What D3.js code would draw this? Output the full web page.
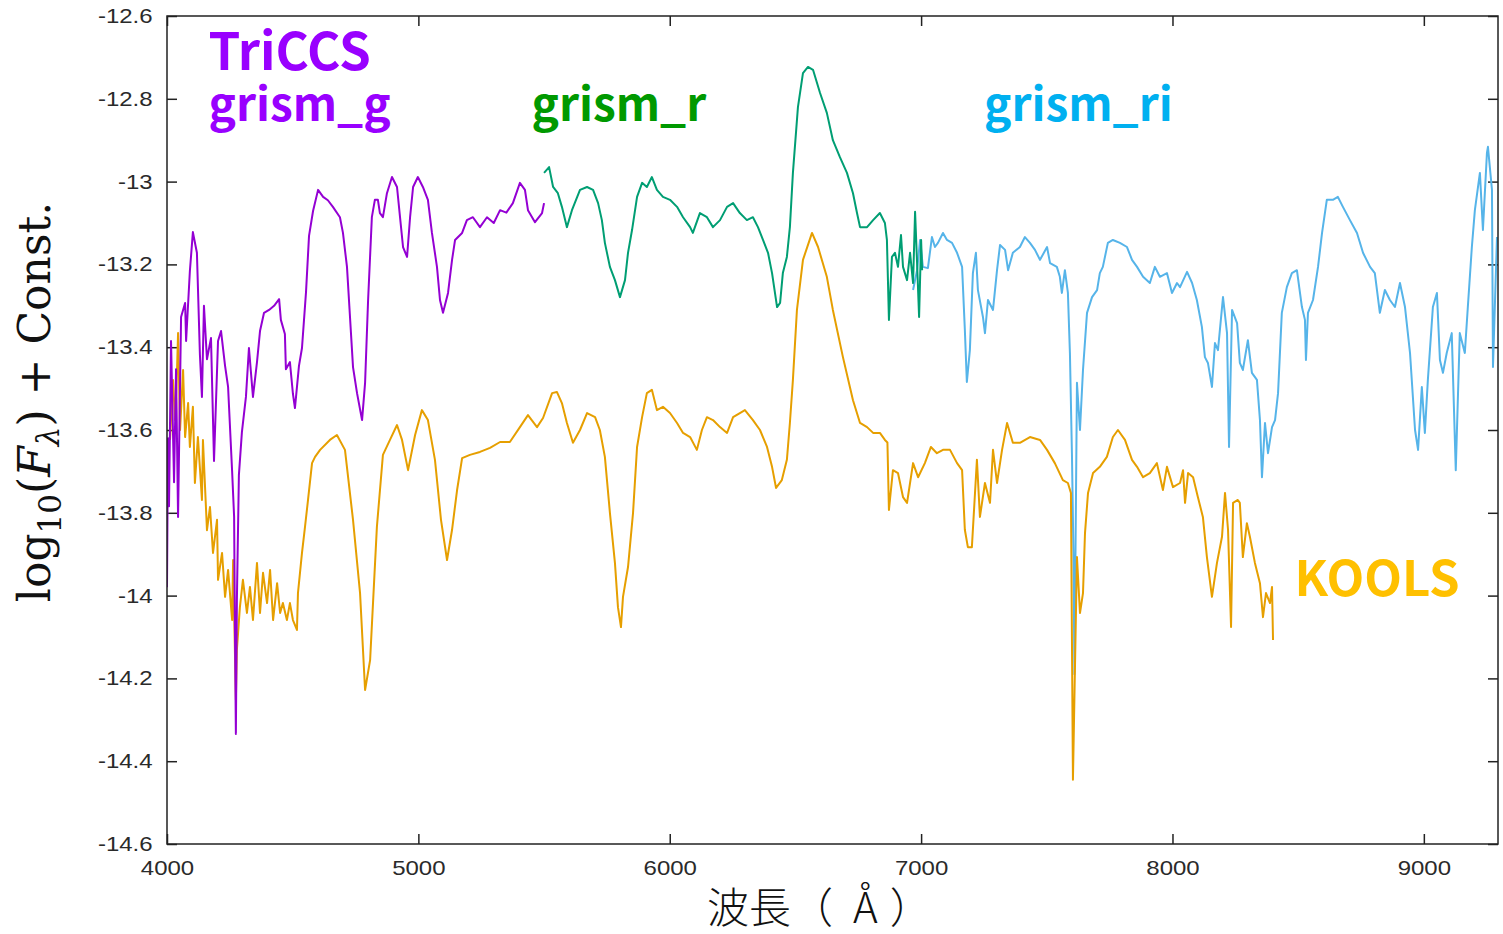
<!DOCTYPE html>
<html>
<head>
<meta charset="utf-8">
<script src="https://cdn.jsdelivr.net/npm/d3@7"></script>
<style>
  html, body { margin: 0; padding: 0; background: #fff; }
  svg { display: block; }
</style>
</head>
<body>
<div id="chart"></div>
<script>
// Axis ticks
const X_TICKS = [4000, 5000, 6000, 7000, 8000, 9000];
const Y_TICKS = [-12.6, -12.8, -13.0, -13.2, -13.4, -13.6, -13.8, -14.0, -14.2, -14.4, -14.6];

// Spectra: [wavelength (A), log10 flux + const]
const GRISM_G = [
  [4000, -13.98], [4004, -13.62], [4008, -13.784], [4016, -13.385], [4028, -13.726], [4036, -13.453],
  [4044, -13.81], [4056, -13.327], [4072, -13.293], [4076, -13.385], [4091, -13.216], [4103, -13.122],
  [4119, -13.172], [4131, -13.419], [4139, -13.52], [4147, -13.3], [4159, -13.429], [4175, -13.378],
  [4187, -13.675], [4203, -13.385], [4215, -13.361], [4231, -13.445], [4243, -13.496], [4259, -13.699],
  [4267, -13.81], [4270, -14.064], [4274, -14.334], [4278, -14.011], [4286, -13.709], [4298, -13.605],
  [4314, -13.52], [4326, -13.402], [4342, -13.52], [4358, -13.436], [4370, -13.361], [4386, -13.317],
  [4406, -13.31], [4426, -13.3], [4446, -13.284], [4453, -13.334], [4469, -13.368], [4473, -13.453],
  [4489, -13.436], [4501, -13.513], [4509, -13.547], [4525, -13.445], [4537, -13.402], [4553, -13.267],
  [4565, -13.131], [4581, -13.071], [4601, -13.02], [4621, -13.037], [4640, -13.045], [4660, -13.061],
  [4688, -13.086], [4700, -13.124], [4716, -13.206], [4728, -13.327], [4740, -13.448], [4756, -13.511],
  [4776, -13.576], [4788, -13.486], [4800, -13.286], [4815, -13.086], [4827, -13.044], [4839, -13.044],
  [4847, -13.076], [4859, -13.086], [4875, -13.028], [4895, -12.989], [4915, -13.013], [4927, -13.086],
  [4939, -13.158], [4955, -13.182], [4967, -13.086], [4979, -13.013], [4998, -12.989], [5018, -13.013],
  [5038, -13.044], [5054, -13.124], [5074, -13.206], [5086, -13.286], [5098, -13.317], [5118, -13.269],
  [5134, -13.189], [5146, -13.141], [5174, -13.124], [5193, -13.093], [5217, -13.086], [5245, -13.11],
  [5273, -13.086], [5300, -13.1], [5325, -13.069], [5350, -13.075], [5376, -13.052], [5404, -13.003],
  [5424, -13.02], [5436, -13.069], [5464, -13.098], [5492, -13.076], [5500, -13.052]
];

const GRISM_R = [
  [5500, -12.979], [5520, -12.965], [5536, -13.013], [5555, -13.028], [5571, -13.061], [5591, -13.11],
  [5611, -13.069], [5643, -13.02], [5671, -13.013], [5695, -13.02], [5715, -13.052], [5730, -13.093],
  [5742, -13.148], [5762, -13.206], [5782, -13.238], [5802, -13.279], [5822, -13.238], [5834, -13.172],
  [5850, -13.117], [5870, -13.037], [5890, -13.003], [5909, -13.013], [5929, -12.989], [5949, -13.02],
  [5973, -13.037], [6001, -13.044], [6029, -13.061], [6053, -13.086], [6081, -13.11], [6092, -13.124],
  [6120, -13.076], [6148, -13.086], [6172, -13.11], [6200, -13.093], [6228, -13.061], [6252, -13.052],
  [6279, -13.076], [6307, -13.093], [6331, -13.086], [6351, -13.11], [6371, -13.141], [6391, -13.172],
  [6407, -13.221], [6427, -13.303], [6439, -13.293], [6450, -13.221], [6466, -13.182], [6478, -13.11],
  [6490, -12.979], [6510, -12.82], [6530, -12.738], [6550, -12.723], [6570, -12.73], [6598, -12.786],
  [6625, -12.834], [6649, -12.9], [6677, -12.941], [6705, -12.979], [6729, -13.028], [6745, -13.076],
  [6757, -13.11], [6785, -13.11], [6809, -13.093], [6836, -13.076], [6856, -13.1], [6864, -13.141],
  [6872, -13.334], [6884, -13.182], [6896, -13.172], [6908, -13.206], [6920, -13.129], [6928, -13.206],
  [6944, -13.238], [6956, -13.172], [6968, -13.245], [6976, -13.073], [6984, -13.197], [6992, -13.327],
  [7000, -13.141], [7004, -13.214]
];

const GRISM_RI = [
  [6968, -13.262], [6984, -13.214], [6996, -13.141], [7007, -13.206], [7027, -13.209], [7043, -13.134],
  [7055, -13.158], [7067, -13.148], [7087, -13.124], [7103, -13.141], [7123, -13.148], [7143, -13.172],
  [7163, -13.206], [7174, -13.358], [7182, -13.484], [7194, -13.407], [7206, -13.221], [7218, -13.172],
  [7226, -13.262], [7246, -13.327], [7254, -13.366], [7266, -13.286], [7286, -13.31], [7302, -13.214],
  [7314, -13.153], [7334, -13.165], [7346, -13.214], [7365, -13.172], [7393, -13.158], [7413, -13.134],
  [7433, -13.148], [7453, -13.165], [7473, -13.189], [7501, -13.158], [7513, -13.197], [7540, -13.206],
  [7552, -13.23], [7560, -13.269], [7572, -13.214], [7584, -13.269], [7592, -13.414], [7600, -13.656],
  [7606, -13.897], [7610, -14.19], [7620, -13.486], [7632, -13.6], [7644, -13.455], [7660, -13.317],
  [7680, -13.279], [7700, -13.262], [7711, -13.221], [7723, -13.206], [7743, -13.148], [7763, -13.141],
  [7791, -13.148], [7819, -13.158], [7839, -13.189], [7859, -13.206], [7883, -13.23], [7910, -13.245],
  [7930, -13.206], [7950, -13.23], [7978, -13.221], [7998, -13.269], [8018, -13.245], [8030, -13.255],
  [8058, -13.218], [8078, -13.245], [8097, -13.286], [8117, -13.351], [8129, -13.424], [8141, -13.438],
  [8157, -13.496], [8169, -13.39], [8181, -13.407], [8201, -13.279], [8217, -13.366], [8225, -13.641],
  [8237, -13.31], [8257, -13.342], [8268, -13.438], [8280, -13.455], [8300, -13.383], [8316, -13.462],
  [8336, -13.479], [8348, -13.576], [8356, -13.714], [8368, -13.583], [8380, -13.656], [8396, -13.593],
  [8408, -13.576], [8420, -13.511], [8435, -13.317], [8455, -13.255], [8475, -13.221], [8495, -13.214],
  [8515, -13.303], [8527, -13.334], [8531, -13.431], [8539, -13.317], [8559, -13.286], [8579, -13.206],
  [8595, -13.124], [8614, -13.044], [8638, -13.044], [8658, -13.037], [8678, -13.061], [8706, -13.093],
  [8734, -13.124], [8758, -13.172], [8786, -13.206], [8805, -13.221], [8825, -13.317], [8845, -13.262],
  [8865, -13.286], [8885, -13.303], [8905, -13.245], [8925, -13.303], [8945, -13.414], [8965, -13.6],
  [8977, -13.648], [8992, -13.496], [9004, -13.607], [9016, -13.479], [9036, -13.303], [9052, -13.269],
  [9064, -13.431], [9076, -13.462], [9091, -13.414], [9111, -13.366], [9127, -13.697], [9143, -13.366],
  [9163, -13.414], [9175, -13.303], [9191, -13.158], [9203, -13.069], [9223, -12.979], [9235, -13.117],
  [9251, -12.931], [9255, -12.916], [9271, -13.02], [9275, -13.448], [9291, -13.134]
];

const KOOLS = [
  [4012, -13.624], [4024, -13.479], [4032, -13.576], [4040, -13.455], [4044, -13.366], [4052, -13.6],
  [4064, -13.455], [4072, -13.617], [4084, -13.535], [4091, -13.641], [4103, -13.544], [4111, -13.728],
  [4123, -13.617], [4139, -13.769], [4143, -13.624], [4159, -13.842], [4171, -13.786], [4183, -13.897],
  [4199, -13.817], [4203, -13.962], [4219, -13.897], [4231, -14.003], [4243, -13.938], [4259, -14.059],
  [4263, -13.914], [4274, -14.252], [4278, -14.131], [4290, -14.028], [4302, -13.962], [4318, -14.042],
  [4330, -13.979], [4342, -14.059], [4358, -13.921], [4370, -14.042], [4382, -13.945], [4398, -14.018],
  [4410, -13.938], [4422, -14.059], [4438, -13.97], [4450, -14.042], [4461, -14.018], [4477, -14.059],
  [4489, -14.018], [4501, -14.059], [4517, -14.083], [4521, -13.994], [4537, -13.897], [4549, -13.834],
  [4561, -13.769], [4577, -13.68], [4589, -13.665], [4609, -13.648], [4648, -13.624], [4676, -13.612],
  [4708, -13.648], [4740, -13.817], [4768, -13.994], [4788, -14.228], [4808, -14.156], [4835, -13.834],
  [4859, -13.66], [4887, -13.624], [4915, -13.588], [4935, -13.624], [4959, -13.697], [4987, -13.612],
  [5014, -13.552], [5038, -13.576], [5066, -13.672], [5090, -13.817], [5114, -13.914], [5134, -13.841],
  [5154, -13.745], [5174, -13.668], [5205, -13.66], [5245, -13.653], [5285, -13.643], [5325, -13.629],
  [5364, -13.629], [5404, -13.593], [5436, -13.564], [5472, -13.593], [5496, -13.571], [5532, -13.511],
  [5551, -13.508], [5571, -13.535], [5591, -13.583], [5615, -13.631], [5643, -13.6], [5671, -13.559],
  [5703, -13.569], [5722, -13.6], [5742, -13.665], [5762, -13.8], [5782, -13.921], [5794, -14.028],
  [5806, -14.076], [5814, -14.003], [5834, -13.931], [5854, -13.8], [5870, -13.641], [5890, -13.569],
  [5909, -13.511], [5929, -13.503], [5949, -13.552], [5973, -13.544], [6001, -13.559], [6029, -13.583],
  [6053, -13.607], [6081, -13.617], [6108, -13.648], [6128, -13.6], [6148, -13.569], [6172, -13.576],
  [6200, -13.593], [6228, -13.607], [6252, -13.569], [6279, -13.559], [6299, -13.552], [6331, -13.576],
  [6359, -13.6], [6387, -13.641], [6407, -13.689], [6423, -13.74], [6446, -13.721], [6466, -13.672],
  [6478, -13.583], [6490, -13.479], [6506, -13.31], [6530, -13.189], [6566, -13.124], [6590, -13.158],
  [6625, -13.23], [6649, -13.31], [6689, -13.424], [6729, -13.528], [6757, -13.583], [6785, -13.593],
  [6809, -13.607], [6836, -13.607], [6856, -13.624], [6866, -13.63], [6872, -13.793], [6888, -13.697],
  [6908, -13.704], [6928, -13.762], [6944, -13.776], [6968, -13.68], [6988, -13.714], [7015, -13.68],
  [7039, -13.641], [7063, -13.656], [7087, -13.648], [7115, -13.648], [7143, -13.68], [7163, -13.697],
  [7174, -13.841], [7186, -13.883], [7202, -13.883], [7222, -13.672], [7234, -13.81], [7254, -13.728],
  [7274, -13.776], [7286, -13.648], [7302, -13.728], [7322, -13.648], [7342, -13.583], [7365, -13.631],
  [7393, -13.631], [7433, -13.617], [7473, -13.624], [7501, -13.648], [7532, -13.68], [7564, -13.721],
  [7584, -13.728], [7596, -13.752], [7604, -14.445], [7620, -13.907], [7632, -14.042], [7644, -13.994],
  [7652, -13.849], [7664, -13.752], [7684, -13.704], [7711, -13.689], [7739, -13.665], [7763, -13.617],
  [7783, -13.6], [7811, -13.624], [7839, -13.672], [7859, -13.689], [7883, -13.714], [7910, -13.704],
  [7938, -13.68], [7962, -13.745], [7978, -13.689], [8002, -13.738], [8030, -13.728], [8042, -13.697],
  [8050, -13.776], [8062, -13.704], [8082, -13.714], [8101, -13.762], [8121, -13.81], [8137, -13.907],
  [8157, -14.003], [8177, -13.921], [8197, -13.858], [8209, -13.752], [8221, -13.841], [8233, -14.076],
  [8241, -13.776], [8260, -13.769], [8268, -13.776], [8280, -13.907], [8296, -13.825], [8308, -13.858],
  [8328, -13.921], [8348, -13.97], [8360, -14.052], [8372, -13.994], [8388, -14.018], [8396, -13.979],
  [8400, -14.107]
];

// Draw order and colours (gnuplot-like defaults)
const SERIES = [
  { name: 'grism_ri', data: GRISM_RI, color: '#56b4e9' },
  { name: 'KOOLS', data: KOOLS, color: '#e69f00' },
  { name: 'grism_r', data: GRISM_R, color: '#009e73' },
  { name: 'grism_g', data: GRISM_G, color: '#9400d3' }
];

const LABELS = [
  { text: 'TriCCS', x: 4165, y: -12.730, color: '#9900ff', size: 51 },
  { text: 'grism_g', x: 4165, y: -12.854, color: '#9900ff', size: 46 },
  { text: 'grism_r', x: 5450, y: -12.854, color: '#009900', size: 46 },
  { text: 'grism_ri', x: 7250, y: -12.854, color: '#00b0f0', size: 46 },
  { text: 'KOOLS', x: 8485, y: -14.0, color: '#ffc000', size: 49 }
];

const W = 1503;
const H = 934;
const margin = { top: 16, right: 5, bottom: 90, left: 167 };
const plotW = W - margin.left - margin.right;
const plotH = H - margin.top - margin.bottom;

const x = d3.scaleLinear().domain([4000, 9295]).range([0, plotW]);
const y = d3.scaleLinear().domain([-14.6, -12.6]).range([plotH, 0]);

const svg = d3.select('#chart').append('svg')
  .attr('width', W)
  .attr('height', H);

const g = svg.append('g')
  .attr('transform', `translate(${margin.left},${margin.top})`);

g.append('clipPath').attr('id', 'plot-clip')
  .append('rect')
  .attr('width', plotW)
  .attr('height', plotH);

const fmtY = d => String(+d.toFixed(1));
const tickFont = '"Liberation Sans", Arial, sans-serif';

// Axes, ticks pointing inward on every side
const xAxis = g.append('g')
  .attr('transform', `translate(0,${plotH})`)
  .call(d3.axisBottom(x).tickValues(X_TICKS).tickSize(-10).tickPadding(17).tickFormat(d3.format('d')));

const yAxis = g.append('g')
  .call(d3.axisLeft(y).tickValues(Y_TICKS).tickSize(-10).tickPadding(12).tickFormat(fmtY));

g.append('g')
  .call(d3.axisTop(x).tickValues(X_TICKS).tickSize(-10).tickFormat(''));

g.append('g')
  .attr('transform', `translate(${plotW},0)`)
  .call(d3.axisRight(y).tickValues(Y_TICKS).tickSize(-10).tickFormat(''));

g.selectAll('.domain').remove();
g.selectAll('.tick line').attr('stroke', '#222').attr('stroke-width', 1.5);

[xAxis, yAxis].forEach((ax) => {
  ax.selectAll('text')
    .attr('fill', '#2a2a2a')
    .style('font-family', tickFont)
    .style('font-size', '20px')
    .attr('transform', 'scale(1.2,1)');
});

// Spectra
const line = d3.line()
  .x(d => x(d[0]))
  .y(d => y(d[1]));

g.append('g')
  .attr('clip-path', 'url(#plot-clip)')
  .selectAll('path.spec')
  .data(SERIES)
  .enter().append('path')
  .attr('class', 'spec')
  .attr('fill', 'none')
  .attr('stroke', d => d.color)
  .attr('stroke-width', 2)
  .attr('stroke-linejoin', 'round')
  .attr('d', d => line(d.data));

// Frame
g.append('rect')
  .attr('width', plotW)
  .attr('height', plotH)
  .attr('fill', 'none')
  .attr('stroke', '#222')
  .attr('stroke-width', 1.5);

// Instrument labels
g.selectAll('text.label')
  .data(LABELS)
  .enter().append('text')
  .attr('class', 'label')
  .attr('x', d => x(d.x))
  .attr('y', d => y(d.y))
  .attr('fill', d => d.color)
  .style('font-family', '"Noto Sans CJK JP", "Noto Sans", sans-serif')
  .style('font-weight', 700)
  .style('font-size', d => `${d.size}px`)
  .text(d => d.text);

// Axis titles
const xTitle = svg.append('text')
  .attr('x', 707)
  .attr('y', 923)
  .attr('fill', '#111')
  .style('font-family', '"Noto Sans CJK JP", sans-serif')
  .style('font-weight', 300)
  .style('font-size', '42px');

xTitle.append('tspan').text('波長（');
xTitle.append('tspan').attr('dx', 20).text('Å');
xTitle.append('tspan').attr('dx', 12).text('）');

const yTitle = svg.append('text')
  .attr('transform', 'translate(50,402) rotate(-90)')
  .attr('text-anchor', 'middle')
  .attr('fill', '#111')
  .style('font-family', '"DejaVu Serif", "Liberation Serif", serif')
  .style('font-size', '44px');

yTitle.append('tspan').text('log');
yTitle.append('tspan').attr('dy', 11).style('font-size', '31px').text('10');
yTitle.append('tspan').attr('dy', -11).text('(');
yTitle.append('tspan').style('font-style', 'italic').text('F');
yTitle.append('tspan').attr('dy', 9).style('font-size', '31px').style('font-style', 'italic').text('λ');
yTitle.append('tspan').attr('dy', -9).text(')');
yTitle.append('tspan').text(' + Const.');
</script>
</body>
</html>
